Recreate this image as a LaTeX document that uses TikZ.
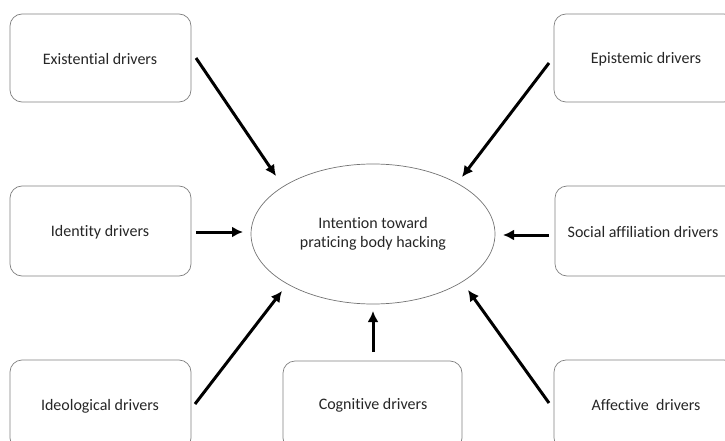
\documentclass[tikz,border=0pt]{standalone}
\usepackage{fontspec}
\setmainfont{Carlito}[Ligatures=NoCommon]
\usetikzlibrary{arrows.meta}
\begin{document}
\begin{tikzpicture}[x=1pt,y=-1pt,
  driver/.style={draw=black!50, line width=0.7pt, rounded corners=12pt, fill=white},
  lbl/.style={font=\fontsize{16}{19}\selectfont, text=black!85},
  feed/.style={line width=3pt, -{Latex[length=11pt,width=11pt]}}]
\useasboundingbox (0,0) rectangle (725,441);
\begin{scope}
\clip (0,0) rectangle (725,441);
% driver boxes
\draw[driver] (10,14) rectangle (191,102);
\draw[driver] (554,14) rectangle (736,102);
\draw[driver] (10,186) rectangle (191,276);
\draw[driver] (555,186) rectangle (737,276);
\draw[driver] (10,360) rectangle (191,450);
\draw[driver] (283,361) rectangle (462,450);
\draw[driver] (554,360) rectangle (736,450);
\end{scope}
\node[lbl] (exi) at (100,59) {Existential drivers};
\node[lbl] (epi) at (646,59) {Epistemic drivers};
\node[lbl] (ide) at (100,232) {Identity drivers};
\node[lbl] (soc) at (643,232) {Social affiliation drivers};
\node[lbl] (ideo) at (100,406) {Ideological drivers};
\node[lbl] (cog) at (373,405) {Cognitive drivers};
\node[lbl] (aff) at (646,405) {Affective\ \ drivers};
% central construct
\draw[draw=black!55, line width=0.7pt] (373,234) ellipse [x radius=122, y radius=70];
\node[lbl, align=center] (int) at (373,234) {Intention toward\\praticing body hacking};
% arrow end points
\coordinate (a1s) at (196,58);  \coordinate (a1e) at (276,176);
\coordinate (a2s) at (549,63);  \coordinate (a2e) at (462,177);
\coordinate (a3s) at (196,232); \coordinate (a3e) at (243,232);
\coordinate (a4s) at (549,235); \coordinate (a4e) at (503,235);
\coordinate (a5s) at (195,404); \coordinate (a5e) at (282,291);
\coordinate (a6s) at (373,352); \coordinate (a6e) at (373,311);
\coordinate (a7s) at (549,403); \coordinate (a7e) at (468,290);
\draw[feed] (a1s) -- (a1e);
\draw[feed] (a2s) -- (a2e);
\draw[feed] (a3s) -- (a3e);
\draw[feed] (a4s) -- (a4e);
\draw[feed] (a5s) -- (a5e);
\draw[feed] (a6s) -- (a6e);
\draw[feed] (a7s) -- (a7e);
\end{tikzpicture}
\end{document}
